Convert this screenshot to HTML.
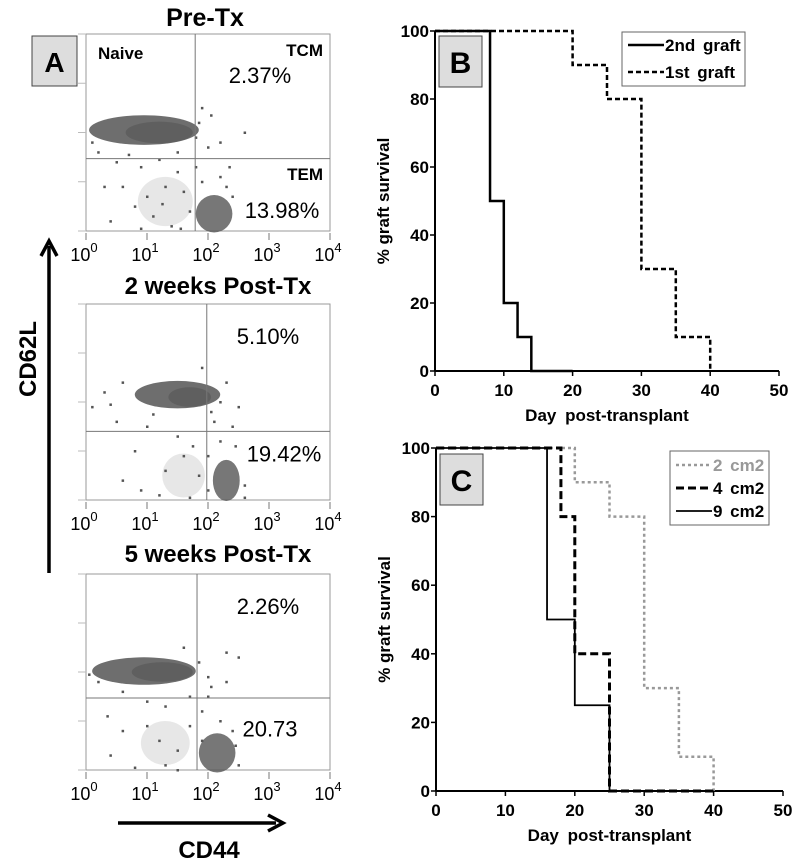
<!DOCTYPE html>
<html><head><meta charset="utf-8"><style>
body{margin:0;background:#fff;}
svg{display:block;font-family:"Liberation Sans",sans-serif;}
</style></head><body>
<svg id="fig" width="800" height="864" viewBox="0 0 800 864" xmlns="http://www.w3.org/2000/svg">
<g id="panelA"></g>
<g id="panelB"></g>
<g id="panelC"></g>
</svg>
<script>
// ---- Panel B data ----
const bTimes2nd = [0, 8, 10, 12, 14, 20];
const bVals2nd  = [100, 50, 20, 10, 0, 0];
const bTimes1st = [0, 20, 25, 30, 35, 40];
const bVals1st  = [100, 90, 80, 30, 10, 0];
// ---- Panel C data ----
const cTimes2 = [0, 20, 25, 30, 35, 40];
const cVals2  = [100, 90, 80, 30, 10, 0];
const cTimes4 = [0, 18, 20, 25, 40];
const cVals4  = [100, 80, 40, 0, 0];
const cTimes9 = [0, 16, 20, 25, 40];
const cVals9  = [100, 50, 25, 0, 0];
const xTicks = [0, 10, 20, 30, 40, 50];
const yTicks = [0, 20, 40, 60, 80, 100];
// ---- Panel A data (log10 units) ----
const aTitles = ["Pre-Tx", "2 weeks Post-Tx", "5 weeks Post-Tx"];
const aGateX = [1.79, 1.98, 1.82];
const aGateY = [1.47, 1.4, 1.47];
const aUpperPct = ["2.37%", "5.10%", "2.26%"];
const aLowerPct = ["13.98%", "19.42%", "20.73"];
// dense clusters: [cx, cy, rx, ry] in log units
const aBlobs = [
  [[0.95,2.05,0.9,0.3],[1.2,2.0,0.55,0.22],[2.1,0.35,0.3,0.38],[1.3,0.6,0.45,0.5]],
  [[1.5,2.15,0.7,0.28],[1.7,2.1,0.35,0.2],[2.3,0.4,0.22,0.42],[1.6,0.5,0.35,0.45]],
  [[0.95,2.02,0.85,0.28],[1.25,2.0,0.5,0.2],[2.15,0.35,0.3,0.4],[1.3,0.55,0.4,0.45]]
];
const aDots = [
  [[0.2,1.6],[0.5,1.4],[0.9,1.3],[1.2,1.45],[1.5,1.2],[0.6,0.9],[1.0,0.7],[1.3,0.9],[1.6,0.8],[1.7,0.4],[1.1,0.3],[0.8,0.5],[1.4,0.1],[0.4,0.2],[1.9,1.0],[2.2,1.1],[2.3,0.9],[2.0,1.7],[2.2,1.8],[2.6,2.0],[1.9,2.5],[2.05,2.35],[1.25,0.55],[0.9,0.05],[1.55,0.05],[0.3,0.9],[1.8,1.3],[2.4,0.7],[0.1,1.8],[1.8,1.9],[1.85,2.2],[2.35,1.3],[1.5,1.6],[0.7,1.55]],
  [[0.1,1.9],[0.3,2.2],[0.6,2.4],[1.9,2.7],[2.3,2.4],[2.5,1.9],[2.1,1.6],[2.4,1.5],[1.5,1.3],[0.8,1.0],[0.6,0.4],[0.9,0.2],[1.3,0.6],[1.6,0.9],[1.75,1.1],[1.85,0.5],[2.0,0.2],[2.6,0.3],[2.6,0.05],[1.2,0.1],[1.7,0.05],[2.0,0.9],[2.2,1.2],[1.0,1.5],[0.5,1.6],[2.05,1.8],[2.2,2.0],[0.4,1.95],[1.1,1.75],[2.45,1.1]],
  [[0.2,1.8],[0.6,1.6],[1.0,1.4],[1.3,1.3],[1.7,1.5],[2.0,1.9],[2.3,1.8],[2.3,2.4],[2.5,2.3],[1.6,2.5],[1.0,0.9],[0.6,0.8],[0.4,0.3],[1.2,0.6],[1.5,0.4],[1.7,0.9],[1.9,1.2],[2.2,1.0],[2.4,0.8],[2.5,0.1],[1.3,0.1],[0.8,0.05],[1.5,0.0],[2.0,1.5],[0.35,1.1],[1.85,2.2],[2.05,1.7],[0.05,1.95],[1.9,0.6],[2.45,0.5]]
];
const aXTickLabels = ["0","1","2","3","4"];

const NS = "http://www.w3.org/2000/svg";
function mk(parent, tag, attrs, text){
  const e = document.createElementNS(NS, tag);
  for (const k in attrs) e.setAttribute(k, attrs[k]);
  if (text !== undefined) e.textContent = text;
  parent.appendChild(e); return e;
}

// ---------- survival panels ----------
function survival(g, box, letter, series, legend, legBox, letterBox){
  const X = v => box.x0 + (box.x1 - box.x0) * v / 50;
  const Y = v => box.y0 - (box.y0 - box.y1) * v / 100;
  const ax = mk(g,'g',{});
  
  
  const yl = mk(ax,'line',{x1:X(0),y1:Y(0),x2:X(0),y2:Y(100),stroke:'#000','stroke-width':2});
  
  
  const xl = mk(ax,'line',{x1:X(0),y1:Y(0),x2:X(50),y2:Y(0),stroke:'#000','stroke-width':2});
  
  
  xTicks.forEach(t=>{
    mk(ax,'line',{x1:X(t),y1:Y(0),x2:X(t),y2:Y(0)+5,stroke:'#000','stroke-width':1.5});
    const tl = mk(ax,'text',{x:X(t),y:Y(0)+25,'text-anchor':'middle','font-size':17,'font-weight':'bold'},String(t));
    
    
  });
  yTicks.forEach(t=>{
    mk(ax,'line',{x1:X(0)-5,y1:Y(t),x2:X(0),y2:Y(t),stroke:'#000','stroke-width':1.5});
    const tl = mk(ax,'text',{x:X(0)-6,y:Y(t)+6,'text-anchor':'end','font-size':17,'font-weight':'bold'},String(t));
    
    
  });
  const xt = mk(ax,'text',{x:(X(0)+X(50))/2,y:Y(0)+50,'text-anchor':'middle','font-size':17,'font-weight':'bold','word-spacing':4},'Day post-transplant');
  
  
  const cy = (Y(0)+Y(100))/2;
  const yt = mk(ax,'text',{x:0,y:0,transform:`translate(${X(0)-46},${cy}) rotate(-90)`,'text-anchor':'middle','font-size':17,'font-weight':'bold'},'% graft survival');
  
  
  series.forEach(s=>{
    let d = `M${X(s.t[0])},${Y(s.v[0])}`;
    for (let i=1;i<s.t.length;i++){
      d += ` H${X(s.t[i])} V${Y(s.v[i])}`;
    }
    const p = mk(g,'path',{d:d,fill:'none',stroke:s.color,'stroke-width':s.w,'stroke-dasharray':s.dash||'none'});
    
    
  });
  const lb = mk(g,'g',{});
  
  
  mk(lb,'rect',{x:legBox.x,y:legBox.y,width:legBox.w,height:legBox.h,fill:'#fff',stroke:'#666','stroke-width':1});
  legend.forEach((s,i)=>{
    const yy = legBox.y + legBox.first + i*legBox.step;
    const le = mk(lb,'g',{});
    
    
    mk(le,'line',{x1:legBox.x+6,y1:yy,x2:legBox.x+42,y2:yy,stroke:s.color,'stroke-width':s.w,'stroke-dasharray':s.dash||'none'});
    mk(le,'text',{x:legBox.x+43,y:yy+6,'font-size':17,'font-weight':'bold',fill:s.color==='#999'?'#999':'#000','word-spacing':3},s.label);
  });
  const lbx = mk(g,'g',{});
  
  
  mk(lbx,'rect',{x:letterBox.x,y:letterBox.y,width:43,height:51,fill:'#ddd',stroke:'#444','stroke-width':1});
  mk(lbx,'text',{x:letterBox.x+21.5,y:letterBox.y+37,'text-anchor':'middle','font-size':30,'font-weight':'bold'},letter);
}

const sB = [
  {t:bTimes2nd,v:bVals2nd,color:'#000',w:2.5,name:'series-2nd-graft',label:'2nd graft'},
  {t:bTimes1st,v:bVals1st,color:'#000',w:2.5,dash:'5,3',name:'series-1st-graft',label:'1st graft'}
];
survival(document.getElementById('panelB'),{x0:435,x1:779,y0:371,y1:31},'B',sB,sB,{x:622,y:32,w:123,h:54,step:27,first:13},{x:439,y:36});
const sC = [
  {t:cTimes2,v:cVals2,color:'#999',w:2.5,dash:'3,3',name:'series-2cm2',label:'2 cm2'},
  {t:cTimes4,v:cVals4,color:'#000',w:3,dash:'8,4',name:'series-4cm2',label:'4 cm2'},
  {t:cTimes9,v:cVals9,color:'#000',w:1.8,name:'series-9cm2',label:'9 cm2'}
];
survival(document.getElementById('panelC'),{x0:436,x1:783,y0:791,y1:448},'C',sC,sC,{x:670,y:451,w:99,h:74,step:23,first:14},{x:440,y:454});

// ---------- panel A ----------
const gA = document.getElementById('panelA');
const blobOpacity = [0.85, 0.6, 0.8, 0.14];
const plots = [{y0:231,y1:34,ty:26},{y0:500,y1:304,ty:294},{y0:770,y1:574,ty:562}];
plots.forEach((p,i)=>{
  const g = mk(gA,'g',{});
  
  
  const x0=86,x1=330;
  const LX = v => x0 + (x1-x0)*v/4;
  const LY = v => p.y0 - (p.y0-p.y1)*v/4;
  const t = mk(g,'text',{x:i===0?205:218,y:p.ty,'text-anchor':'middle','font-size':i===0?25:24,'font-weight':'bold'},aTitles[i]);
  
  
  mk(g,'rect',{x:x0,y:p.y1,width:x1-x0,height:p.y0-p.y1,fill:'#fff',stroke:'#999','stroke-width':1});
  aBlobs[i].forEach((b,j)=>{
    const e = mk(g,'ellipse',{cx:LX(b[0]),cy:LY(b[1]),rx:(x1-x0)*b[2]/4,ry:(p.y0-p.y1)*b[3]/4,fill:'#555',opacity:blobOpacity[j]});
    
    
  });
  aDots[i].forEach(d=>{
    const r = mk(g,'rect',{x:LX(d[0])-1,y:LY(d[1])-1,width:2.5,height:2.5,fill:'#555'});
    
    
  });
  const gxp = LX(aGateX[i]), gyp = LY(aGateY[i]);
  const vg = mk(g,'line',{x1:gxp,y1:p.y1,x2:gxp,y2:p.y0,stroke:'#777','stroke-width':1});
  
  
  const hg = mk(g,'line',{x1:x0,y1:gyp,x2:x1,y2:gyp,stroke:'#777','stroke-width':1});
  
  
  for (let k=0;k<=4;k++){
    mk(g,'line',{x1:LX(k),y1:p.y0+2,x2:LX(k),y2:p.y0+9,stroke:'#777','stroke-width':1});
    const tl = mk(g,'text',{x:LX(k)-2,y:p.y0+30,'text-anchor':'middle','font-size':18},'10');
    
    
    mk(tl,'tspan',{dy:-9,'font-size':13},aXTickLabels[k]);
    mk(g,'line',{x1:x0-8,y1:LY(k),x2:x0,y2:LY(k),stroke:'#bbb','stroke-width':1});
  }
  const up = mk(g,'text',{x:i===0?260:268,y:(i===0?83:LY(3.35)+8),'text-anchor':'middle','font-size':22},aUpperPct[i]);
  
  
  const lo = mk(g,'text',{x:i===2?270:(i===0?282:284),y:(i===0?218:LY(i===1?0.95:0.85)+8),'text-anchor':'middle','font-size':22},aLowerPct[i]);
  
  
});
const nv = mk(gA,'text',{x:98,y:59,'font-size':17,'font-weight':'bold'},'Naive');


const tcm = mk(gA,'text',{x:323,y:56,'text-anchor':'end','font-size':17,'font-weight':'bold'},'TCM');


const tem = mk(gA,'text',{x:323,y:180,'text-anchor':'end','font-size':17,'font-weight':'bold'},'TEM');


const aL = mk(gA,'g',{});


mk(aL,'rect',{x:32,y:36,width:45,height:50,fill:'#ddd',stroke:'#444','stroke-width':1});
mk(aL,'text',{x:54.5,y:72,'text-anchor':'middle','font-size':28,'font-weight':'bold'},'A');
const va = mk(gA,'g',{});


mk(va,'line',{x1:49,y1:573,x2:49,y2:246,stroke:'#000','stroke-width':3.5});
mk(va,'path',{d:'M41,256 L49,241 L57,256',fill:'none',stroke:'#000','stroke-width':3.5});
const cl = mk(gA,'text',{x:0,y:0,transform:'translate(36,359) rotate(-90)','text-anchor':'middle','font-size':24,'font-weight':'bold'},'CD62L');


const ha = mk(gA,'g',{});


mk(ha,'line',{x1:118,y1:823,x2:276,y2:823,stroke:'#000','stroke-width':3.5});
mk(ha,'path',{d:'M268,815 L283,823 L268,831',fill:'none',stroke:'#000','stroke-width':3.5});
const c44 = mk(gA,'text',{x:209,y:858,'text-anchor':'middle','font-size':24,'font-weight':'bold'},'CD44');


</script>
</body></html>
